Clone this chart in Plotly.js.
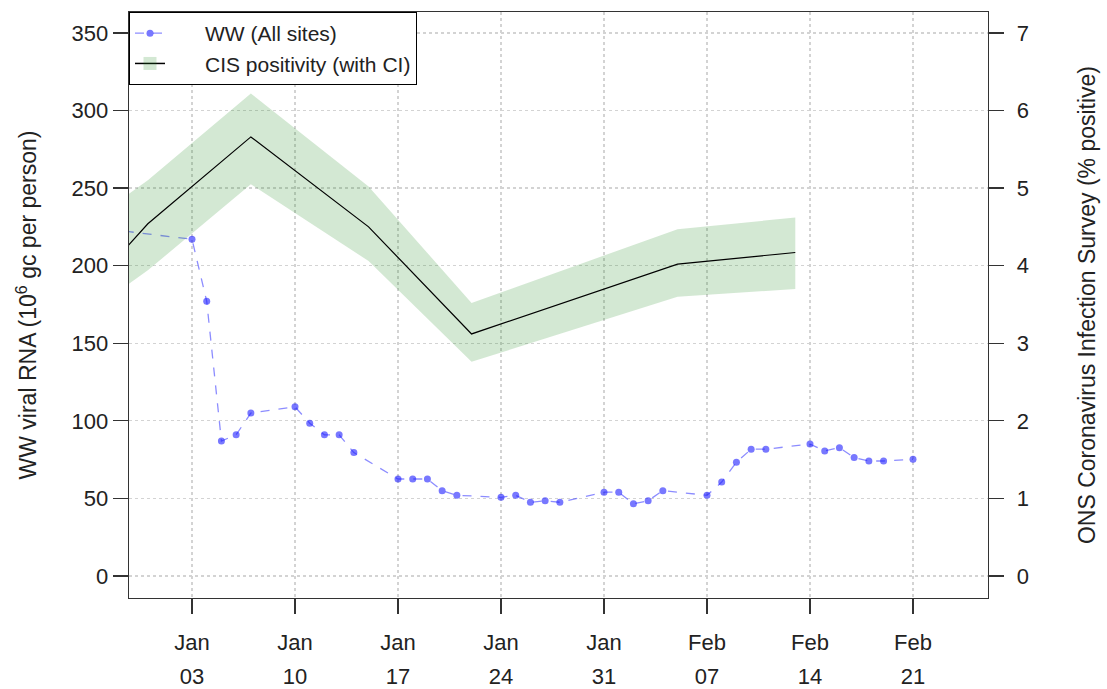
<!DOCTYPE html>
<html><head><meta charset="utf-8">
<script src="https://cdn.plot.ly/plotly-3.0.1.min.js"></script>
<style>html,body{margin:0;padding:0;background:#fff}#chart{width:1107px;height:689px}</style>
</head><body><div id="chart"></div>
<script>
// Wastewater viral RNA (10^6 gc per person), all sites
const wwDates = ['2021-12-27','2022-01-03','2022-01-04','2022-01-05','2022-01-06','2022-01-07',
  '2022-01-10','2022-01-11','2022-01-12','2022-01-13','2022-01-14',
  '2022-01-17','2022-01-18','2022-01-19','2022-01-20','2022-01-21',
  '2022-01-24','2022-01-25','2022-01-26','2022-01-27','2022-01-28',
  '2022-01-31','2022-02-01','2022-02-02','2022-02-03','2022-02-04',
  '2022-02-07','2022-02-08','2022-02-09','2022-02-10','2022-02-11',
  '2022-02-14','2022-02-15','2022-02-16','2022-02-17','2022-02-18','2022-02-19','2022-02-21'];
const wwValues = [225,217,177,87,91,105,
  109,98.5,91,91,79.5,
  62.5,62.5,62.5,55,52,
  50.7,52,47.5,48.5,47.5,
  54,54,46.5,48.5,55,
  52,60.5,73.3,81.7,81.7,
  85,80.6,82.7,76.3,74.1,74.1,75.2];

// ONS CIS positivity (% positive) with credible interval
const cisDates = ['2021-12-29','2021-12-31','2022-01-07','2022-01-15','2022-01-22','2022-02-05','2022-02-13'];
const cisMid  = [4.12,4.54,5.66,4.50,3.12,4.02,4.17];
const cisLow  = [3.67,3.94,5.05,4.06,2.76,3.60,3.70];
const cisHigh = [4.83,5.10,6.22,5.02,3.52,4.47,4.62];

const tickDates = ['2022-01-03','2022-01-10','2022-01-17','2022-01-24','2022-01-31','2022-02-07','2022-02-14','2022-02-21'];
const tickMonths = ['Jan','Jan','Jan','Jan','Jan','Feb','Feb','Feb'];
const tickDays = ['03','10','17','24','31','07','14','21'];
const leftTicks = [0,50,100,150,200,250,300,350];
const rightTicks = [0,1,2,3,4,5,6,7];

const FONT = 'Liberation Sans, Arial, sans-serif';
const PAD = '\u00a0\u00a0\u00a0\u00a0\u00a0\u00a0';
const traces = [
  {x: wwDates, y: wwValues, type:'scatter', mode:'lines+markers', name: PAD + 'WW (All sites)',
   yaxis:'y', line:{color:'rgba(0,0,255,0.45)', dash:'dash', width:1.3},
   marker:{color:'rgba(30,30,255,0.6)', size:7}},
  {x: cisDates, y: cisLow, type:'scatter', mode:'lines', yaxis:'y2', showlegend:false,
   line:{width:0, color:'rgba(0,0,0,0)'}, hoverinfo:'skip'},
  {x: cisDates, y: cisHigh, type:'scatter', mode:'lines', yaxis:'y2', showlegend:false,
   fill:'tonexty', fillcolor:'rgba(34,139,34,0.2)', line:{width:0, color:'rgba(0,0,0,0)'}, hoverinfo:'skip'},
  {x: cisDates, y: cisMid, type:'scatter', mode:'lines', yaxis:'y2', showlegend:false,
   line:{color:'#000', width:1.2}},
  {x: [null], y: [null], type:'scatter', mode:'lines+markers', yaxis:'y2', name: PAD + 'CIS positivity (with CI)',
   line:{color:'#000', width:1.5}, marker:{symbol:'square', size:13, color:'rgba(34,139,34,0.2)'}},
  // carrier for the second row of date labels (day numbers)
  {x: [null], y: [null], type:'scatter', mode:'lines', xaxis:'x2', yaxis:'y', showlegend:false, hoverinfo:'skip'}
];

const xRange = ['2021-12-29 17:15','2022-02-26 02:20'];
const layout = {
  width:1107, height:689,
  margin:{l:129, r:119, t:12, b:91},
  paper_bgcolor:'#fff', plot_bgcolor:'#fff',
  font:{family:FONT, size:20, color:'#222'},
  showlegend:true,
  legend:{x:0, y:1, xanchor:'left', yanchor:'top', bgcolor:'#fff', bordercolor:'#000', borderwidth:1,
          traceorder:'normal',
          font:{family:FONT, size:21, color:'#222'}, tracegroupgap:0},
  xaxis:{type:'date', range:xRange,
    tickmode:'array', tickvals:tickDates, ticktext:tickMonths,
    ticks:'outside', ticklen:15, tickcolor:'#333', tickwidth:1.3,
    showline:true, linecolor:'#333', linewidth:1.3, mirror:true,
    showgrid:true, gridcolor:'#d3d3d3', griddash:'dot', gridwidth:1.3,
    zeroline:false, tickfont:{size:22, color:'#222'}, ticklabelstandoff:9},
  xaxis2:{type:'date', range:xRange, overlaying:'x', matches:'x', anchor:'y', side:'bottom',
    tickmode:'array', tickvals:tickDates, ticktext:tickDays,
    ticks:'outside', ticklen:15, tickcolor:'rgba(0,0,0,0)',
    showline:false, showgrid:false, zeroline:false,
    tickfont:{size:22, color:'#222'}, ticklabelstandoff:44},
  yaxis:{range:[-14.2,363.5], tickmode:'array', tickvals:leftTicks,
    ticks:'outside', ticklen:15, tickcolor:'#333', tickwidth:1.3,
    showline:true, linecolor:'#333', linewidth:1.3,
    showgrid:true, gridcolor:'#d3d3d3', griddash:'dot', gridwidth:1.3, zeroline:false,
    tickfont:{size:22, color:'#222'},
    title:{text:'WW viral RNA (10<sup>6</sup> gc per person)', font:{size:23, color:'#222'}, standoff:28}},
  yaxis2:{range:[-0.284,7.27], overlaying:'y', side:'right', tickmode:'array', tickvals:rightTicks,
    ticks:'outside', ticklen:15, tickcolor:'#333', tickwidth:1.3,
    showline:true, linecolor:'#333', linewidth:1.3, showgrid:false, zeroline:false,
    tickfont:{size:22, color:'#222'}, ticklabelstandoff:8,
    title:{text:'ONS Coronavirus Infection Survey (% positive)', font:{size:23, color:'#222'}, standoff:51}}
};
Plotly.newPlot('chart', traces, layout, {displayModeBar:false, staticPlot:true});
</script></body></html>
